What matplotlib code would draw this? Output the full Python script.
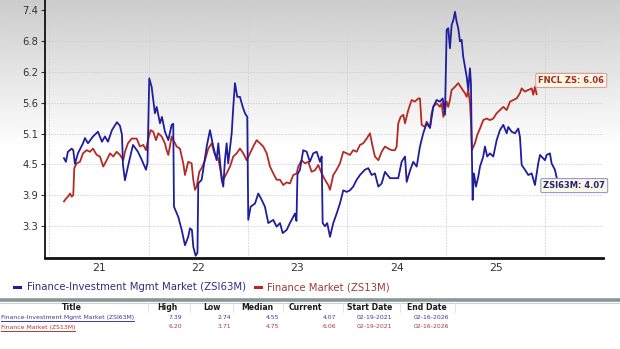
import matplotlib
matplotlib.use("Agg")
import matplotlib.pyplot as plt
import numpy as np
from matplotlib.lines import Line2D

plt.rcParams['font.family'] = ['DejaVu Sans']

# ---------------- data (x = years since 2000, decimal) ----------------
blue_x = [21.146, 21.166, 21.186, 21.224, 21.240, 21.257, 21.287, 21.338, 21.358, 21.388,
          21.439, 21.489, 21.529, 21.559, 21.590, 21.630, 21.680, 21.711, 21.731, 21.741,
          21.761, 21.791, 21.842, 21.892, 21.932, 21.973, 21.988, 22.006, 22.030, 22.063,
          22.081, 22.114, 22.134, 22.164, 22.198, 22.232, 22.248, 22.255, 22.298, 22.333,
          22.366, 22.399, 22.416, 22.436, 22.450, 22.474, 22.492, 22.500, 22.534, 22.550,
          22.585, 22.618, 22.651, 22.685, 22.702, 22.736, 22.752, 22.769, 22.786, 22.802,
          22.837, 22.853, 22.870, 22.893, 22.920, 22.948, 22.971, 22.994, 23.004, 23.028,
          23.072, 23.105, 23.139, 23.172, 23.206, 23.256, 23.290, 23.324, 23.351, 23.391,
          23.424, 23.475, 23.490, 23.500, 23.525, 23.558, 23.593, 23.625, 23.659, 23.694,
          23.727, 23.744, 23.754, 23.777, 23.800, 23.828, 23.861, 23.895, 23.928, 23.962,
          23.996, 24.029, 24.062, 24.097, 24.130, 24.180, 24.214, 24.248, 24.281, 24.315,
          24.349, 24.382, 24.433, 24.483, 24.516, 24.550, 24.584, 24.601, 24.634, 24.667,
          24.702, 24.718, 24.735, 24.768, 24.802, 24.836, 24.869, 24.903, 24.936, 24.964,
          24.987, 25.004, 25.020, 25.037, 25.054, 25.071, 25.088, 25.105, 25.121, 25.138,
          25.155, 25.171, 25.206, 25.222, 25.239, 25.249, 25.256, 25.266, 25.279, 25.300,
          25.323, 25.340, 25.373, 25.390, 25.413, 25.440, 25.474, 25.508, 25.541, 25.575,
          25.609, 25.625, 25.659, 25.693, 25.726, 25.743, 25.760, 25.793, 25.827, 25.861,
          25.894, 25.927, 25.945, 25.995, 26.012, 26.045, 26.062, 26.095, 26.113]
blue_y = [4.59, 4.52, 4.71, 4.77, 4.74, 4.48, 4.68, 4.87, 4.97, 4.87,
          5.00, 5.09, 4.90, 5.00, 4.90, 5.12, 5.27, 5.20, 5.03, 4.46,
          4.17, 4.43, 4.84, 4.71, 4.55, 4.37, 4.50, 6.10, 5.94, 5.44,
          5.56, 5.25, 5.37, 5.09, 4.93, 5.22, 5.24, 3.67, 3.48, 3.23,
          2.94, 3.10, 3.26, 3.23, 2.91, 2.74, 2.80, 4.11, 4.18, 4.37,
          4.81, 5.12, 4.81, 4.55, 4.87, 4.18, 4.05, 4.55, 4.87, 4.49,
          5.06, 5.56, 6.01, 5.75, 5.75, 5.56, 5.44, 5.37, 3.42, 3.67,
          3.73, 3.92, 3.80, 3.67, 3.36, 3.42, 3.29, 3.36, 3.17, 3.23,
          3.36, 3.54, 3.40, 4.28, 4.37, 4.74, 4.71, 4.52, 4.68, 4.71,
          4.52, 4.62, 3.36, 3.30, 3.36, 3.10, 3.36, 3.54, 3.73, 3.98,
          3.95, 3.98, 4.05, 4.18, 4.27, 4.37, 4.40, 4.27, 4.30, 4.05,
          4.11, 4.33, 4.21, 4.21, 4.21, 4.52, 4.62, 4.14, 4.35, 4.52,
          4.43, 4.62, 4.81, 5.06, 5.25, 5.16, 5.56, 5.69, 5.66, 5.72,
          5.41, 7.02, 7.05, 6.67, 7.11, 7.20, 7.36, 7.17, 7.05, 6.80,
          6.83, 6.51, 6.13, 5.88, 6.29, 6.00, 4.93, 3.80, 4.30, 4.05,
          4.24, 4.43, 4.62, 4.81, 4.62, 4.68, 4.62, 4.93, 5.12, 5.22,
          5.06, 5.18, 5.09, 5.06, 5.15, 4.99, 4.46, 4.37, 4.27, 4.30,
          4.08, 4.49, 4.65, 4.55, 4.65, 4.68, 4.49, 4.37, 4.22]

red_x = [21.146, 21.166, 21.186, 21.207, 21.224, 21.240, 21.250, 21.274, 21.307, 21.338,
         21.375, 21.408, 21.439, 21.476, 21.509, 21.542, 21.577, 21.610, 21.643, 21.677,
         21.711, 21.744, 21.761, 21.791, 21.829, 21.879, 21.912, 21.946, 21.973, 21.996,
         22.020, 22.046, 22.074, 22.097, 22.131, 22.164, 22.181, 22.198, 22.232, 22.248,
         22.282, 22.315, 22.349, 22.366, 22.399, 22.433, 22.450, 22.467, 22.484, 22.510,
         22.534, 22.568, 22.601, 22.635, 22.668, 22.702, 22.736, 22.752, 22.786, 22.820,
         22.853, 22.887, 22.920, 22.954, 22.988, 23.014, 23.054, 23.089, 23.122, 23.155,
         23.190, 23.223, 23.256, 23.290, 23.324, 23.357, 23.391, 23.424, 23.458, 23.492,
         23.508, 23.542, 23.576, 23.609, 23.643, 23.676, 23.710, 23.744, 23.777, 23.810,
         23.828, 23.861, 23.895, 23.928, 23.962, 23.996, 24.029, 24.062, 24.097, 24.130,
         24.163, 24.198, 24.231, 24.254, 24.281, 24.315, 24.349, 24.382, 24.415, 24.450,
         24.483, 24.500, 24.516, 24.540, 24.567, 24.584, 24.617, 24.651, 24.683, 24.718,
         24.735, 24.752, 24.785, 24.802, 24.836, 24.853, 24.869, 24.903, 24.936, 24.954,
         24.970, 24.987, 25.004, 25.020, 25.037, 25.054, 25.088, 25.121, 25.155, 25.188,
         25.206, 25.222, 25.239, 25.249, 25.259, 25.272, 25.289, 25.313, 25.340, 25.373,
         25.407, 25.440, 25.474, 25.508, 25.541, 25.575, 25.609, 25.643, 25.675, 25.709,
         25.743, 25.760, 25.793, 25.827, 25.861, 25.877, 25.894, 25.911]
red_y = [3.77, 3.82, 3.86, 3.92, 3.86, 3.89, 4.40, 4.49, 4.52, 4.68,
         4.74, 4.71, 4.77, 4.65, 4.62, 4.43, 4.55, 4.68, 4.62, 4.71,
         4.65, 4.55, 4.71, 4.87, 4.96, 4.96, 4.81, 4.84, 4.74, 4.96,
         5.12, 5.09, 4.93, 5.06, 5.00, 4.87, 4.74, 4.65, 5.00, 4.93,
         4.81, 4.77, 4.49, 4.27, 4.52, 4.49, 4.18, 3.99, 4.05, 4.33,
         4.40, 4.55, 4.77, 4.87, 4.65, 4.58, 4.24, 4.18, 4.30, 4.43,
         4.62, 4.68, 4.77, 4.68, 4.55, 4.65, 4.81, 4.93, 4.87, 4.81,
         4.68, 4.43, 4.30, 4.18, 4.18, 4.08, 4.13, 4.11, 4.27, 4.30,
         4.43, 4.55, 4.49, 4.52, 4.33, 4.36, 4.46, 4.30, 4.18, 4.08,
         3.99, 4.27, 4.37, 4.49, 4.71, 4.68, 4.65, 4.74, 4.71, 4.84,
         4.87, 4.96, 5.06, 4.84, 4.62, 4.55, 4.71, 4.81, 4.77, 4.74,
         4.74, 4.81, 5.25, 5.37, 5.41, 5.25, 5.50, 5.69, 5.66, 5.72,
         5.72, 5.22, 5.18, 5.28, 5.18, 5.44, 5.56, 5.63, 5.56, 5.63,
         5.37, 5.50, 5.66, 5.56, 5.69, 5.88, 5.94, 6.01, 5.91, 5.82,
         5.75, 5.88, 5.63, 5.30, 4.74, 4.80, 4.87, 5.03, 5.15, 5.31,
         5.34, 5.31, 5.34, 5.44, 5.50, 5.56, 5.50, 5.66, 5.69, 5.72,
         5.82, 5.91, 5.85, 5.88, 5.91, 5.79, 5.94, 5.80]

ytick_vals = [3.3, 3.885, 4.47, 5.055, 5.64, 6.225, 6.81, 7.395]
ytick_labels = ["3.3", "3.9", "4.5", "5.1", "5.6", "6.2", "6.8", "7.4"]
year_bounds = [21, 22, 23, 24, 25, 26]
xtick_pos = [21.5, 22.5, 23.5, 24.5, 25.5]
xtick_labels = ["21", "22", "23", "24", "25"]

blue_name = "Finance-Investment Mgmt Market (ZSI63M)"
red_name = "Finance Market (ZS13M)"
blue_tag = "ZSI63M: 4.07"
red_tag = "FNCL ZS: 6.06"
blue_current = 4.07
red_current = 6.06

table_header = ["Title", "High", "Low", "Median", "Current", "Start Date", "End Date"]
table_rows = [
    [blue_name, "7.39", "2.74", "4.55", "4.07", "02-19-2021", "02-16-2026"],
    [red_name, "6.20", "3.71", "4.75", "6.06", "02-19-2021", "02-16-2026"],
]

BLUE = "#1f1f9e"
RED = "#b52a24"

# ---------------- figure ----------------
W, H = 620, 349
fig = plt.figure(figsize=(W / 100, H / 100), dpi=100)

def fx(px):
    return px / W

def fy(py):
    return 1 - py / H

# background gradient (gray at top fading to white)
bg = fig.add_axes([0, 0, 1, 1], zorder=-10)
grad = np.ones((H, 2))
ramp = 150
grad[:ramp, :] = np.linspace(0.80, 1.0, ramp)[:, None]
bg.imshow(grad, cmap='gray', vmin=0, vmax=1, aspect='auto', extent=[0, 1, 0, 1],
          interpolation='bilinear')
bg.set_axis_off()

ax = fig.add_axes([fx(45), fy(257.7), fx(558), 257.7 / H])
ax.set_facecolor('none')
ax.set_xlim(20.955, 26.58)
ax.set_ylim(2.704, 7.584)

ax.plot(red_x, red_y, color=RED, lw=1.3, zorder=3)
ax.plot(blue_x, blue_y, color=BLUE, lw=1.3, zorder=4)

# axes styling
for s in ['top', 'right']:
    ax.spines[s].set_visible(False)
ax.spines['left'].set_color('#111111')
ax.spines['left'].set_linewidth(1.3)
ax.spines['bottom'].set_color('#111111')
ax.spines['bottom'].set_linewidth(2.0)

ax.set_yticks(ytick_vals)
ax.set_yticklabels(ytick_labels)
ax.tick_params(axis='y', length=3, width=0.8, color='#333333', labelsize=7.2,
               labelcolor='#333333', pad=2)
ax.yaxis.grid(True, color='#d0d0d0', linestyle=(0, (2, 1.5)), linewidth=0.6)

ax.set_xticks(year_bounds)
ax.set_xticklabels([])
ax.set_xticks(xtick_pos, minor=True)
ax.set_xticklabels(xtick_labels, minor=True)
ax.tick_params(axis='x', which='major', length=0)
ax.tick_params(axis='x', which='minor', length=0, labelsize=7.8, labelcolor='#333333', pad=4)
ax.xaxis.grid(True, which='major', color='#d0d0d0', linestyle=(0, (2, 1.5)), linewidth=0.6)
ax.set_axisbelow(True)

# value tags
ax.text(26.26, red_current, red_tag, ha='center', va='center', fontsize=6.0,
        color='#a02a22', fontweight='bold', clip_on=False, zorder=6,
        bbox=dict(boxstyle='round,pad=0.3,rounding_size=0.15', facecolor='#fff6e3',
                  edgecolor='#d9a2a0', linewidth=0.8))
ax.text(26.29, blue_current, blue_tag, ha='center', va='center', fontsize=6.0,
        color='#23236e', fontweight='bold', clip_on=False, zorder=6,
        bbox=dict(boxstyle='round,pad=0.3,rounding_size=0.15', facecolor='#fbf7e8',
                  edgecolor='#9a9ac8', linewidth=0.8))

# legend line
ly = fy(287)
fig.add_artist(Line2D([fx(14), fx(20)], [ly, ly], color=BLUE, lw=2.2))
fig.text(fx(27), ly, blue_name, color='#2e2e88', fontsize=7.3, va='center', ha='left')
fig.add_artist(Line2D([fx(255), fx(261)], [ly, ly], color=RED, lw=2.2))
fig.text(fx(267), ly, red_name, color='#a03a3a', fontsize=7.3, va='center', ha='left')

# separator
fig.add_artist(Line2D([0, 1], [fy(300), fy(300)], color='#8a9696', lw=2.6))
fig.add_artist(Line2D([0, 1], [fy(302.5), fy(302.5)], color='#c9d0d0', lw=0.8))

# table
hdr_x = [72, 167, 212, 257, 305, 370, 427]
hy = fy(307.5)
for t, x in zip(table_header, hdr_x):
    fig.text(fx(x), hy, t, ha='center', va='center', fontsize=5.6, fontweight='bold',
             color='#1a1a1a')
for sx in [148, 190, 233, 283, 343, 400, 455]:
    fig.add_artist(Line2D([fx(sx), fx(sx)], [fy(303), fy(312)], color='#e0e0e0', lw=0.6))

val_right = [182, 231, 279, 336, 392, 449]
row_y = [317.5, 327]
row_colors = ['#3b3b9a', '#b03a3a']
fig.canvas.draw()
renderer = fig.canvas.get_renderer()
for row, ry, col in zip(table_rows, row_y, row_colors):
    t = fig.text(fx(1), fy(ry), row[0], ha='left', va='center', fontsize=4.4, color=col)
    bb = t.get_window_extent(renderer=renderer)
    fig.add_artist(Line2D([bb.x0 / W, bb.x1 / W], [fy(ry + 3.5), fy(ry + 3.5)],
                          color=col, lw=0.7))
    for v, xr in zip(row[1:], val_right):
        fig.text(fx(xr), fy(ry), v, ha='right', va='center', fontsize=4.4, color=col)

fig.savefig('out.png', dpi=100)
